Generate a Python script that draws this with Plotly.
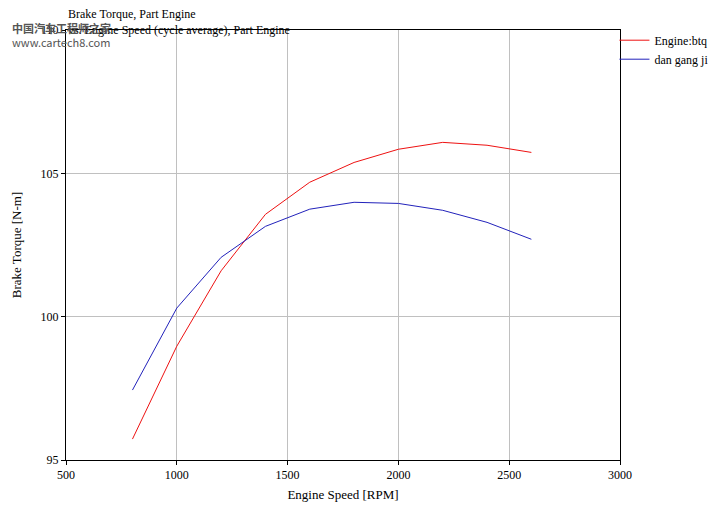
import plotly.graph_objects as go

rpm = [800, 1000, 1200, 1400, 1600, 1800, 2000, 2200, 2400, 2600]
btq = [95.73, 98.97, 101.6, 103.57, 104.69, 105.38, 105.84, 106.08, 105.98, 105.73]
dgj = [97.44, 100.3, 102.07, 103.15, 103.75, 103.99, 103.95, 103.71, 103.29, 102.7]

F = "Liberation Serif"
fig = go.Figure()
fig.add_trace(go.Scatter(x=rpm, y=btq, mode="lines", name="Engine:btq", line=dict(color="#ee1111", width=1)))
fig.add_trace(go.Scatter(x=rpm, y=dgj, mode="lines", name="dan gang ji", line=dict(color="#2222bb", width=1)))
ax = dict(showline=True, linecolor="black", mirror=True, gridcolor="#c0c0c0", zeroline=False,
          ticks="outside", tickcolor="black", ticklen=4, automargin=False)
fig.update_layout(
    width=711, height=506, paper_bgcolor="white", plot_bgcolor="white",
    margin=dict(l=58, r=99, t=22, b=54, autoexpand=False),
    font=dict(family=F, size=12, color="black"),
    xaxis=dict(range=[500, 3000], dtick=500, title=dict(text="Engine Speed [RPM]", standoff=8, font=dict(size=13)), **ax),
    yaxis=dict(range=[95, 110], dtick=5, title=dict(text="Brake Torque [N-m]", standoff=16, font=dict(size=13)), **ax),
    legend=dict(x=0.99, y=1.01, xanchor="left", yanchor="top", bgcolor="rgba(0,0,0,0)", font=dict(size=12),
                tracegroupgap=0, itemwidth=30),
    annotations=[
        dict(text="Brake Torque, Part Engine<br>vs. Engine Speed (cycle average), Part Engine",
             xref="paper", yref="paper", x=0, y=1, yshift=-9, xanchor="left", yanchor="bottom",
             align="left", showarrow=False, font=dict(size=12)),
        dict(text="<b>中国汽车工程师之家</b><br>www.cartech8.com", xref="paper", yref="paper",
             x=0, y=1, xshift=-56, yshift=-22, xanchor="left", yanchor="bottom", align="left",
             showarrow=False, font=dict(size=11, color="#555555", family="Noto Sans CJK SC")),
    ],
)
fig.write_html("out.html")
